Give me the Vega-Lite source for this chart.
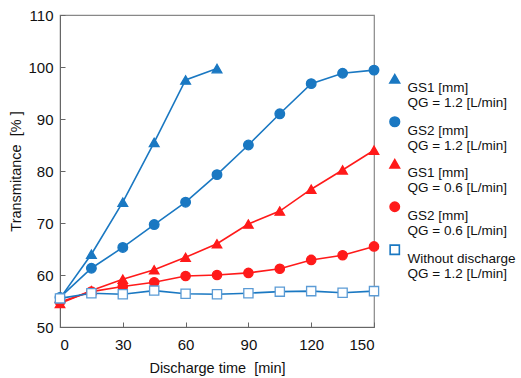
{
  "$schema": "https://vega.github.io/schema/vega-lite/v6.json",
  "width": 314,
  "height": 312,
  "autosize": {"type": "none"},
  "padding": {"left": 60, "top": 15, "right": 147, "bottom": 51},
  "background": "white",
  "config": {
    "font": "Liberation Sans",
    "view": {"stroke": "#888888", "strokeWidth": 1.2},
    "axis": {
      "grid": false,
      "domainColor": "#666666",
      "tickColor": "#666666",
      "labelColor": "#111111",
      "titleColor": "#111111",
      "labelFont": "Liberation Sans",
      "titleFont": "Liberation Sans",
      "labelFontSize": 15,
      "titleFontSize": 14.5,
      "titleFontWeight": "normal",
      "tickSize": -5
    }
  },
  "data": {
    "values": [
      {"t": 0, "v": 55.5, "s": "a"}, {"t": 15, "v": 64, "s": "a"}, {"t": 30, "v": 74, "s": "a"}, {"t": 45, "v": 85.5, "s": "a"}, {"t": 60, "v": 97.5, "s": "a"}, {"t": 75, "v": 99.7, "s": "a"},
      {"t": 0, "v": 55.7, "s": "b"}, {"t": 15, "v": 61.3, "s": "b"}, {"t": 30, "v": 65.3, "s": "b"}, {"t": 45, "v": 69.7, "s": "b"}, {"t": 60, "v": 74, "s": "b"}, {"t": 75, "v": 79.3, "s": "b"}, {"t": 90, "v": 85, "s": "b"}, {"t": 105, "v": 91, "s": "b"}, {"t": 120, "v": 96.8, "s": "b"}, {"t": 135, "v": 98.8, "s": "b"}, {"t": 150, "v": 99.4, "s": "b"},
      {"t": 0, "v": 54.5, "s": "c"}, {"t": 15, "v": 57, "s": "c"}, {"t": 30, "v": 59.2, "s": "c"}, {"t": 45, "v": 61, "s": "c"}, {"t": 60, "v": 63.4, "s": "c"}, {"t": 75, "v": 66, "s": "c"}, {"t": 90, "v": 69.8, "s": "c"}, {"t": 105, "v": 72.3, "s": "c"}, {"t": 120, "v": 76.5, "s": "c"}, {"t": 135, "v": 80.2, "s": "c"}, {"t": 150, "v": 84, "s": "c"},
      {"t": 0, "v": 54.8, "s": "d"}, {"t": 15, "v": 56.8, "s": "d"}, {"t": 30, "v": 57.8, "s": "d"}, {"t": 45, "v": 58.6, "s": "d"}, {"t": 60, "v": 59.8, "s": "d"}, {"t": 75, "v": 60, "s": "d"}, {"t": 90, "v": 60.4, "s": "d"}, {"t": 105, "v": 61.2, "s": "d"}, {"t": 120, "v": 62.9, "s": "d"}, {"t": 135, "v": 63.8, "s": "d"}, {"t": 150, "v": 65.5, "s": "d"},
      {"t": 0, "v": 55.5, "s": "e"}, {"t": 15, "v": 56.5, "s": "e"}, {"t": 30, "v": 56.3, "s": "e"}, {"t": 45, "v": 57, "s": "e"}, {"t": 60, "v": 56.4, "s": "e"}, {"t": 75, "v": 56.3, "s": "e"}, {"t": 90, "v": 56.5, "s": "e"}, {"t": 105, "v": 56.8, "s": "e"}, {"t": 120, "v": 56.9, "s": "e"}, {"t": 135, "v": 56.6, "s": "e"}, {"t": 150, "v": 56.9, "s": "e"}
    ]
  },
  "encoding": {
    "x": {"field": "t", "type": "quantitative", "scale": {"domain": [0, 150], "nice": false}, "axis": {"values": [0, 30, 60, 90, 120, 150], "title": "Discharge time\u00a0\u00a0[min]", "labelPadding": 15, "titlePadding": 9}},
    "y": {"field": "v", "type": "quantitative", "scale": {"domain": [50, 110], "nice": false, "zero": false}, "axis": {"values": [50, 60, 70, 80, 90, 100, 110], "title": "Transmitance\u00a0\u00a0[%\u00a0]", "labelPadding": 12, "titlePadding": 4}}
  },
  "layer": [
    {
      "mark": {"type": "line", "strokeWidth": 1.6},
      "encoding": {
        "color": {"field": "s", "type": "nominal", "scale": {"domain": ["a", "b", "c", "d", "e"], "range": ["#1a78c2", "#1a78c2", "#ff1a1a", "#ff1a1a", "#1a78c2"]},
          "legend": {
            "title": null, "orient": "none", "legendX": 328, "legendY": 57,
            "symbolSize": 441, "symbolStrokeWidth": 1.6,
            "labelFontSize": 13.5, "labelColor": "#111111", "labelLimit": 200, "labelOffset": 6, "rowPadding": 3,
            "labelExpr": "datum.value == 'a' ? ['GS1 [mm]', 'QG = 1.2 [L/min]'] : datum.value == 'b' ? ['GS2 [mm]', 'QG = 1.2 [L/min]'] : datum.value == 'c' ? ['GS1 [mm]', 'QG = 0.6 [L/min]'] : datum.value == 'd' ? ['GS2 [mm]', 'QG = 0.6 [L/min]'] : ['Without discharge', 'QG = 1.2 [L/min]']",
            "encode": {
              "labels": {"update": {"dy": {"value": 9}}},
              "symbols": {"update": {
                "shape": {"signal": "datum.value == 'a' || datum.value == 'c' ? 'M-1,0H1M0,-0.42L0.42,0.32L-0.42,0.32Z' : datum.value == 'e' ? 'M-1,0H-0.36M0.36,0H1M-0.36,-0.36H0.36V0.36H-0.36Z' : 'M-1,0H1M0.38,0A0.38,0.38 0 1,1 -0.38,0A0.38,0.38 0 1,1 0.38,0Z'"},
                "fill": {"signal": "datum.value == 'e' ? '#ffffff' : datum.value == 'c' || datum.value == 'd' ? '#ff1a1a' : '#1a78c2'"},
                "stroke": {"signal": "datum.value == 'e' ? '#5b9bd5' : datum.value == 'c' || datum.value == 'd' ? '#ff1a1a' : '#1a78c2'"}
              }}
            }
          }
        }
      }
    },
    {
      "mark": {"type": "point", "filled": false, "strokeWidth": 1.3, "opacity": 1},
      "encoding": {
        "shape": {"field": "s", "type": "nominal", "scale": {"domain": ["a", "b", "c", "d", "e"], "range": ["triangle-up", "circle", "triangle-up", "circle", "square"]}, "legend": null},
        "size": {"field": "s", "type": "nominal", "scale": {"domain": ["a", "b", "c", "d", "e"], "range": [95, 85, 95, 85, 140]}, "legend": null},
        "fill": {"field": "s", "type": "nominal", "scale": {"domain": ["a", "b", "c", "d", "e"], "range": ["#1a78c2", "#1a78c2", "#ff1a1a", "#ff1a1a", "#ffffff"]}, "legend": null},
        "stroke": {"field": "s", "type": "nominal", "scale": {"domain": ["a", "b", "c", "d", "e"], "range": ["#1a78c2", "#1a78c2", "#ff1a1a", "#ff1a1a", "#5b9bd5"]}, "legend": null}
      }
    }
  ]
}
